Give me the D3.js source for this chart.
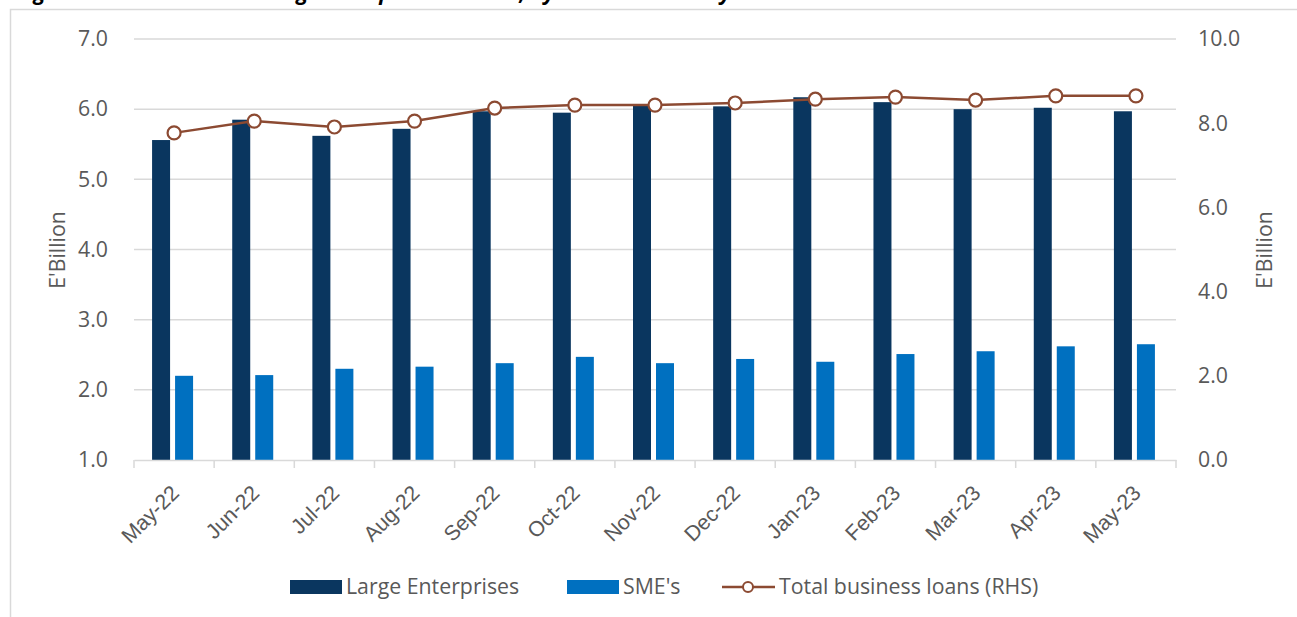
<!DOCTYPE html>
<html>
<head>
<meta charset="utf-8">
<title>Business loans by enterprise size</title>
<style>
    body { margin: 0; background: #ffffff; }
    svg { display: block; font-family: "Open Sans", "Noto Sans", sans-serif; }
</style>
</head>
<body>
<script src="https://d3js.org/d3.v7.min.js"></script>
<script>
    // chart data (E'Billion)
    const months = ["May-22", "Jun-22", "Jul-22", "Aug-22", "Sep-22", "Oct-22", "Nov-22",
                    "Dec-22", "Jan-23", "Feb-23", "Mar-23", "Apr-23", "May-23"];
    const largeEnterprises = [5.56, 5.85, 5.62, 5.72, 5.97, 5.95, 6.07, 6.04, 6.17, 6.10, 6.00, 6.02, 5.97];
    const smes = [2.20, 2.21, 2.30, 2.33, 2.38, 2.47, 2.38, 2.44, 2.40, 2.51, 2.55, 2.62, 2.65];
    const totalLoans = [7.77, 8.05, 7.91, 8.05, 8.36, 8.43, 8.43, 8.48, 8.57, 8.62, 8.55, 8.65, 8.65];
    const leftTicks = [1, 2, 3, 4, 5, 6, 7];
    const rightTicks = [0, 2, 4, 6, 8, 10];
    const seriesNames = ["Large Enterprises", "SME's", "Total business loans (RHS)"];

    const width = 1297, height = 617;
    const plotLeft = 134, plotRight = 1176, plotTop = 39, plotBottom = 460;
    const darkBlue = "#0a365f", midBlue = "#0070c0", brown = "#8c4a32";
    const textColor = "#595959", gridColor = "#d9d9d9";
    const fs = 21.3;

    const svg = d3.select("body").append("svg")
        .attr("width", width)
        .attr("height", height);

    // outer chart frame
    svg.append("rect")
        .attr("x", 10.5).attr("y", 9.5)
        .attr("width", 1400).attr("height", 700)
        .attr("fill", "none")
        .attr("stroke", gridColor)
        .attr("stroke-width", 1.5);

    // title, mostly cut off by the top edge (as in the source image)
    svg.append("text")
        .attr("x", 16).attr("y", 0)
        .attr("font-size", 21.3)
        .attr("font-weight", "bold")
        .attr("font-style", "italic")
        .attr("fill", "#000")
        .text("Figure 5: Commercial lending to the private sector, by size and industry");

    // scales
    const x = d3.scaleBand().domain(months).range([plotLeft, plotRight]);
    const yL = d3.scaleLinear().domain([1, 7]).range([plotBottom, plotTop]);
    const yR = d3.scaleLinear().domain([0, 10]).range([plotBottom, plotTop]);

    // gridlines
    svg.append("g")
        .selectAll("line")
        .data(leftTicks.slice(1))
        .join("line")
        .attr("x1", plotLeft).attr("x2", plotRight)
        .attr("y1", d => yL(d)).attr("y2", d => yL(d))
        .attr("stroke", gridColor)
        .attr("stroke-width", 1.5);

    // left axis
    const yAxisL = svg.append("g")
        .attr("transform", "translate(" + plotLeft + ",0)")
        .call(d3.axisLeft(yL).tickValues(leftTicks).tickFormat(d3.format(".1f")).tickSize(0).tickPadding(26));
    yAxisL.select(".domain").remove();

    // right axis
    const yAxisR = svg.append("g")
        .attr("transform", "translate(" + plotRight + ",0)")
        .call(d3.axisRight(yR).tickValues(rightTicks).tickFormat(d3.format(".1f")).tickSize(0).tickPadding(22));
    yAxisR.select(".domain").remove();

    svg.selectAll(".tick text")
        .attr("font-family", "'Open Sans', sans-serif")
        .attr("font-size", fs)
        .attr("fill", textColor);

    // axis titles
    svg.append("text")
        .attr("transform", "translate(65,250) rotate(-90)")
        .attr("text-anchor", "middle")
        .attr("font-size", fs)
        .attr("fill", textColor)
        .text("E'Billion");
    svg.append("text")
        .attr("transform", "translate(1272,250) rotate(-90)")
        .attr("text-anchor", "middle")
        .attr("font-size", fs)
        .attr("fill", textColor)
        .text("E'Billion");

    // bars
    const barW = 18;
    const center = d => x(d) + x.bandwidth() / 2;

    svg.append("g")
        .selectAll("rect")
        .data(months)
        .join("rect")
        .attr("x", (d) => center(d) - 22)
        .attr("y", (d, i) => yL(largeEnterprises[i]))
        .attr("width", barW)
        .attr("height", (d, i) => plotBottom - yL(largeEnterprises[i]))
        .attr("fill", darkBlue);

    svg.append("g")
        .selectAll("rect")
        .data(months)
        .join("rect")
        .attr("x", (d) => center(d) + 1)
        .attr("y", (d, i) => yL(smes[i]))
        .attr("width", barW)
        .attr("height", (d, i) => plotBottom - yL(smes[i]))
        .attr("fill", midBlue);

    // x axis
    const xAxis = svg.append("g")
        .attr("transform", "translate(0," + plotBottom + ")")
        .call(d3.axisBottom(x).tickSize(0).tickPadding(0));
    xAxis.select(".domain").attr("stroke", gridColor).attr("stroke-width", 1.5);
    xAxis.selectAll(".tick text")
        .attr("font-size", fs)
        .attr("fill", textColor)
        .attr("text-anchor", "end")
        .attr("y", 0)
        .attr("dy", "0.35em")
        .attr("transform", "translate(1,29) rotate(-45)");

    // tick marks at category boundaries
    const bounds = months.map(d => x(d)).concat([plotRight]);
    svg.append("g")
        .selectAll("line")
        .data(bounds)
        .join("line")
        .attr("x1", d => d).attr("x2", d => d)
        .attr("y1", plotBottom).attr("y2", plotBottom + 8)
        .attr("stroke", gridColor)
        .attr("stroke-width", 1.5);

    // total line
    const line = d3.line()
        .x((d, i) => center(months[i]))
        .y(d => yR(d));

    svg.append("path")
        .datum(totalLoans)
        .attr("d", line)
        .attr("fill", "none")
        .attr("stroke", brown)
        .attr("stroke-width", 2.5);

    svg.append("g")
        .selectAll("circle")
        .data(totalLoans)
        .join("circle")
        .attr("cx", (d, i) => center(months[i]))
        .attr("cy", d => yR(d))
        .attr("r", 6.5)
        .attr("fill", "#fff")
        .attr("stroke", brown)
        .attr("stroke-width", 2.2);

    // legend
    const legY = 587;
    const legend = svg.append("g").attr("font-size", fs).attr("fill", textColor);

    legend.append("rect").attr("x", 290).attr("y", legY - 7).attr("width", 52).attr("height", 14).attr("fill", darkBlue);
    legend.append("text").attr("x", 346).attr("y", legY).attr("dy", "0.35em").text(seriesNames[0]);

    legend.append("rect").attr("x", 567).attr("y", legY - 7).attr("width", 52).attr("height", 14).attr("fill", midBlue);
    legend.append("text").attr("x", 623).attr("y", legY).attr("dy", "0.35em").text(seriesNames[1]);

    legend.append("line").attr("x1", 722).attr("x2", 775).attr("y1", legY).attr("y2", legY)
        .attr("stroke", brown).attr("stroke-width", 2.5);
    legend.append("circle").attr("cx", 748).attr("cy", legY).attr("r", 5)
        .attr("fill", "#fff").attr("stroke", brown).attr("stroke-width", 2);
    legend.append("text").attr("x", 779).attr("y", legY).attr("dy", "0.35em").text(seriesNames[2]);
</script>
</body>
</html>
